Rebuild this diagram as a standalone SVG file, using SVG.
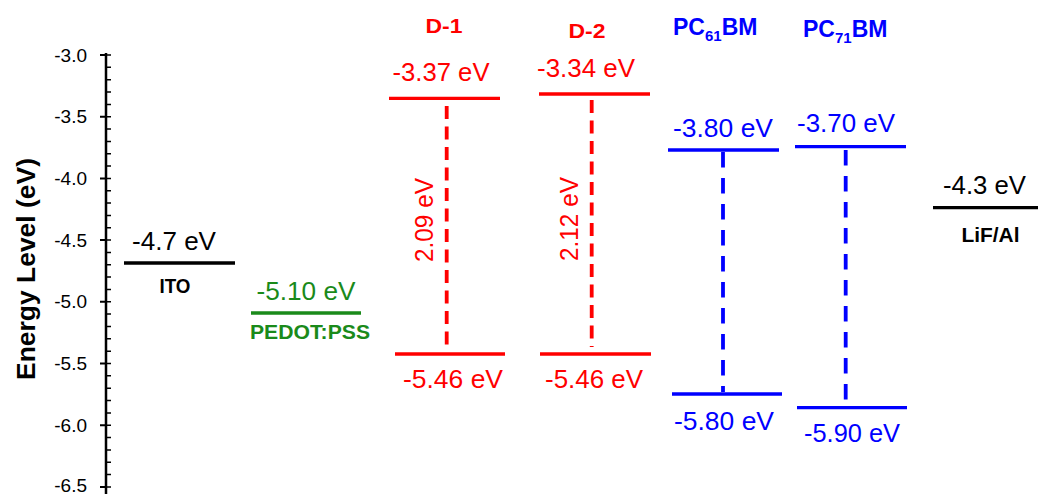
<svg xmlns="http://www.w3.org/2000/svg" width="1038" height="494" viewBox="0 0 1038 494">
<style>
text{font-family:"Liberation Sans",Arial,sans-serif}
.tick{font-size:19px;text-anchor:end;fill:#000}
.val{font-size:25px;text-anchor:middle}
.bold{font-size:21px;font-weight:bold;text-anchor:middle}
.red{fill:#ff0000}.blue{fill:#0000ff}.green{fill:#1a8a1a}.blk{fill:#000}
.lvl{stroke-width:3.3;fill:none}
.rdash{stroke:#ff0000;stroke-width:3.8;stroke-dasharray:13 7.5;fill:none}
.bdash{stroke:#0000ff;stroke-width:3.8;stroke-dasharray:15.5 10.5;fill:none}
</style>
<rect width="1038" height="494" fill="#fff"/>
<g id="axis">
<line x1="106" y1="53" x2="106" y2="494" stroke="#000" stroke-width="2.5"/>
<path stroke="#000" stroke-width="1.5" d="M106 55h5M106 67.3h5M106 79.7h5M106 92h5M106 104.4h5M106 116.7h5M106 129h5M106 141.4h5M106 153.7h5M106 166.1h5M106 178.4h5M106 190.7h5M106 203.1h5M106 215.4h5M106 227.8h5M106 240.1h5M106 252.4h5M106 264.8h5M106 277.1h5M106 289.5h5M106 301.8h5M106 314.1h5M106 326.5h5M106 338.8h5M106 351.2h5M106 363.5h5M106 375.8h5M106 388.2h5M106 400.5h5M106 412.9h5M106 425.2h5M106 437.5h5M106 449.9h5M106 462.2h5M106 474.6h5M106 486.9h5"/>
<path stroke="#000" stroke-width="2" d="M100 55h6M100 116.7h6M100 178.4h6M100 240.1h6M100 301.8h6M100 363.5h6M100 425.2h6M100 486.9h6"/>
<text class="tick" x="87" y="61.5">-3.0</text>
<text class="tick" x="87" y="123.2">-3.5</text>
<text class="tick" x="87" y="184.9">-4.0</text>
<text class="tick" x="87" y="246.6">-4.5</text>
<text class="tick" x="87" y="308.3">-5.0</text>
<text class="tick" x="87" y="370">-5.5</text>
<text class="tick" x="87" y="431.7">-6.0</text>
<text class="tick" x="87" y="492">-6.5</text>
<text x="35" y="269" transform="rotate(-90 35 269)" font-size="26" font-weight="bold" text-anchor="middle" textLength="222" lengthAdjust="spacingAndGlyphs">Energy Level (eV)</text>
</g>
<g id="ITO">
<line class="lvl" x1="124" y1="263" x2="235" y2="263" stroke="#000"/>
<text class="val blk" x="174" y="250" textLength="84" lengthAdjust="spacingAndGlyphs">-4.7 eV</text>
<text class="bold blk" x="175" y="293" font-size="22" textLength="31" lengthAdjust="spacingAndGlyphs">ITO</text>
</g>
<g id="PEDOT">
<line class="lvl" x1="251" y1="313" x2="361" y2="313" stroke="#1a8a1a"/>
<text class="val green" x="306" y="300" textLength="99" lengthAdjust="spacingAndGlyphs">-5.10 eV</text>
<text class="bold green" x="310" y="338.5" font-size="22" textLength="120" lengthAdjust="spacingAndGlyphs">PEDOT:PSS</text>
</g>
<g id="D1">
<text class="bold red" x="444" y="33" font-size="23" textLength="37" lengthAdjust="spacingAndGlyphs">D-1</text>
<line class="lvl" x1="389" y1="98.3" x2="500" y2="98.3" stroke="#ff0000"/>
<line class="lvl" x1="395" y1="354" x2="505" y2="354" stroke="#ff0000"/>
<text class="val red" x="441" y="81" textLength="97" lengthAdjust="spacingAndGlyphs">-3.37 eV</text>
<text class="val red" x="453" y="388.3" textLength="100" lengthAdjust="spacingAndGlyphs">-5.46 eV</text>
</g>
<g id="D2">
<text class="bold red" x="587" y="37.5" font-size="23" textLength="37" lengthAdjust="spacingAndGlyphs">D-2</text>
<line class="lvl" x1="539" y1="94" x2="650" y2="94" stroke="#ff0000"/>
<line class="lvl" x1="540" y1="354" x2="651" y2="354" stroke="#ff0000"/>
<text class="val red" x="586" y="76.7" textLength="98" lengthAdjust="spacingAndGlyphs">-3.34 eV</text>
<text class="val red" x="594" y="388.3" textLength="98" lengthAdjust="spacingAndGlyphs">-5.46 eV</text>
</g>
<g id="PC61BM">
<text class="blue" x="673" y="35" font-size="23" font-weight="bold">PC<tspan font-size="15" dy="6">61</tspan><tspan dy="-6">BM</tspan></text>
<line class="lvl" x1="668" y1="150" x2="779" y2="150" stroke="#0000ff"/>
<line class="lvl" x1="672" y1="394" x2="782" y2="394" stroke="#0000ff"/>
<text class="val blue" x="723" y="136.7" textLength="100" lengthAdjust="spacingAndGlyphs">-3.80 eV</text>
<text class="val blue" x="724" y="430" textLength="100" lengthAdjust="spacingAndGlyphs">-5.80 eV</text>
</g>
<g id="PC71BM">
<text class="blue" x="803" y="36.7" font-size="23" font-weight="bold">PC<tspan font-size="15" dy="6">71</tspan><tspan dy="-6">BM</tspan></text>
<line class="lvl" x1="795" y1="146.7" x2="906" y2="146.7" stroke="#0000ff"/>
<line class="lvl" x1="797" y1="407.7" x2="907" y2="407.7" stroke="#0000ff"/>
<text class="val blue" x="846" y="131.7" textLength="98" lengthAdjust="spacingAndGlyphs">-3.70 eV</text>
<text class="val blue" x="852" y="441.7" textLength="96" lengthAdjust="spacingAndGlyphs">-5.90 eV</text>
</g>
<g id="LiFAl">
<line class="lvl" x1="933" y1="207.7" x2="1038" y2="207.7" stroke="#000"/>
<text class="val blk" x="984.5" y="194.3" textLength="83" lengthAdjust="spacingAndGlyphs">-4.3 eV</text>
<text class="bold blk" x="990.5" y="242" font-size="22" textLength="58" lengthAdjust="spacingAndGlyphs">LiF/Al</text>
</g>
<g id="connectors">
<line class="rdash" x1="446.7" y1="106" x2="446.7" y2="351"/>
<line class="rdash" x1="591.7" y1="100" x2="591.7" y2="347"/>
<line class="bdash" x1="723" y1="152" x2="723" y2="392"/>
<line class="bdash" x1="845.7" y1="150" x2="845.7" y2="402"/>
<text class="val red" x="433" y="220" transform="rotate(-90 433 220)" textLength="84" lengthAdjust="spacingAndGlyphs">2.09 eV</text>
<text class="val red" x="578" y="219" transform="rotate(-90 578 219)" textLength="84" lengthAdjust="spacingAndGlyphs">2.12 eV</text>
</g>
</svg>
